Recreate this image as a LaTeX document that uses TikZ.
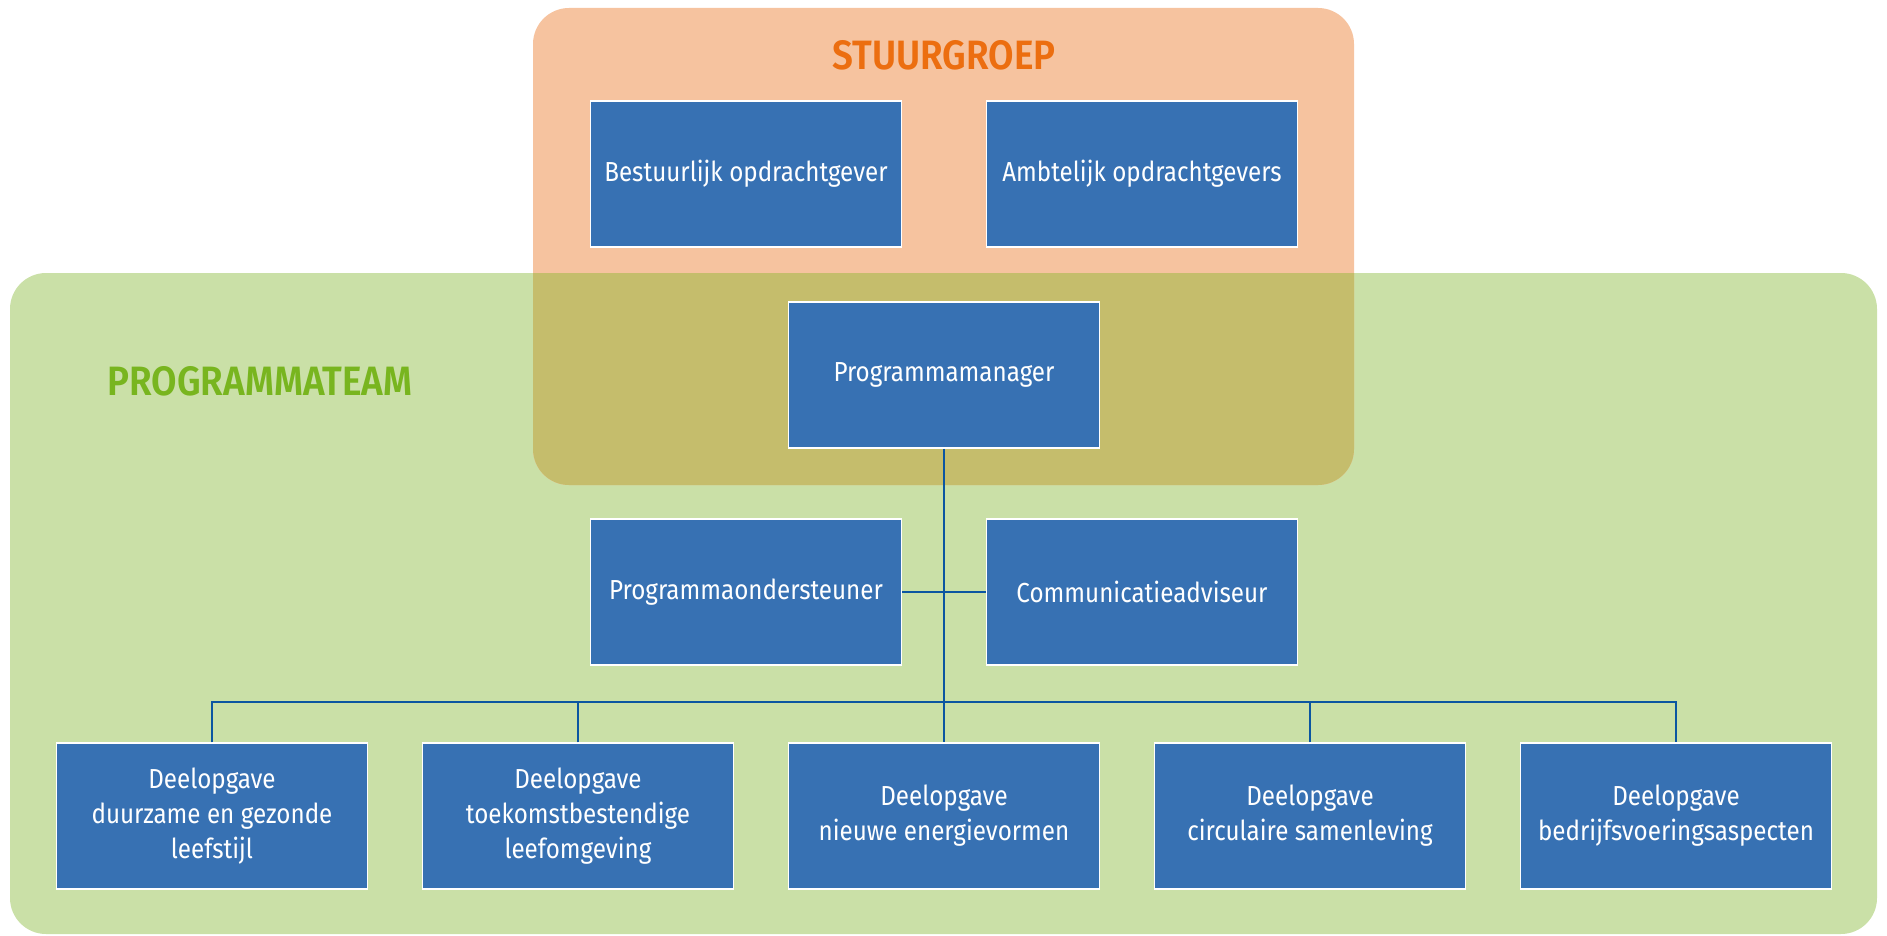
\documentclass[tikz,border=0pt]{standalone}
\usepackage{fontspec}
\setmainfont{Fira Sans}
\newfontfamily\boxfont[FakeStretch=0.88]{Fira Sans}
\newfontfamily\titlefont[FakeStretch=0.9]{Fira Sans SemiBold}
\definecolor{orangebg}{HTML}{F6C39F}
\definecolor{greenbg}{HTML}{CAE0A7}
\definecolor{olivebg}{HTML}{C5BD6C}
\definecolor{boxblue}{HTML}{3771B3}
\definecolor{lineblue}{HTML}{0B56A1}
\definecolor{orangetxt}{HTML}{EC6E10}
\definecolor{greentxt}{HTML}{78B51F}
\tikzset{
  orgbox/.style={draw=white, line width=1.5pt, fill=boxblue, text=white,
    minimum width=311pt, minimum height=146pt, inner sep=0pt, align=center,
    font=\boxfont\fontsize{27.5}{35}\selectfont},
  conn/.style={draw=lineblue, line width=2.8pt},
  grouplabel/.style={font=\titlefont\fontsize{41}{46}\selectfont}
}
\begin{document}
\begin{tikzpicture}[x=1pt,y=-1pt]
\useasboundingbox (0,0) rectangle (1887,936);
% backgrounds
\fill[greenbg, rounded corners=36pt] (10,273) rectangle (1877,934);
\fill[orangebg, rounded corners=36pt] (533,8) rectangle (1354,485);
\begin{scope}
  \clip (10,273) rectangle (1877,934);
  \fill[olivebg, rounded corners=36pt] (533,8) rectangle (1354,485);
\end{scope}
% group labels
\node[grouplabel, text=orangetxt] (stuur) at (944,55) {STUURGROEP};
\node[grouplabel, text=greentxt, anchor=west] (team) at (104,381) {PROGRAMMATEAM};
% boxes
\node[orgbox] (best) at (746,174) {Bestuurlijk opdrachtgever};
\node[orgbox] (ambt) at (1142,174) {Ambtelijk opdrachtgevers};
\node[orgbox] (pm) at (944,375) {Programmamanager};
\node[orgbox] (onder) at (746,592) {Programmaondersteuner};
\node[orgbox] (comm) at (1142,592) {Communicatieadviseur};
\node[orgbox] (d1) at (212,816) {Deelopgave\\duurzame en gezonde\\leefstijl};
\node[orgbox] (d2) at (578,816) {Deelopgave\\toekomstbestendige\\leefomgeving};
\node[orgbox] (d3) at (944,816) {Deelopgave\\nieuwe energievormen};
\node[orgbox] (d4) at (1310,816) {Deelopgave\\circulaire samenleving};
\node[orgbox] (d5) at (1676,816) {Deelopgave\\bedrijfsvoeringsaspecten};
% connectors
\coordinate (bus) at (944,702);
\draw[conn] (pm.south) -- (d3.north);
\draw[conn] (onder.east) -- (comm.west);
\draw[conn] (d1.north) |- (bus) -| (d5.north);
\draw[conn] (d2.north) -- (d2.north |- bus);
\draw[conn] (d4.north) -- (d4.north |- bus);
\end{tikzpicture}
\end{document}
